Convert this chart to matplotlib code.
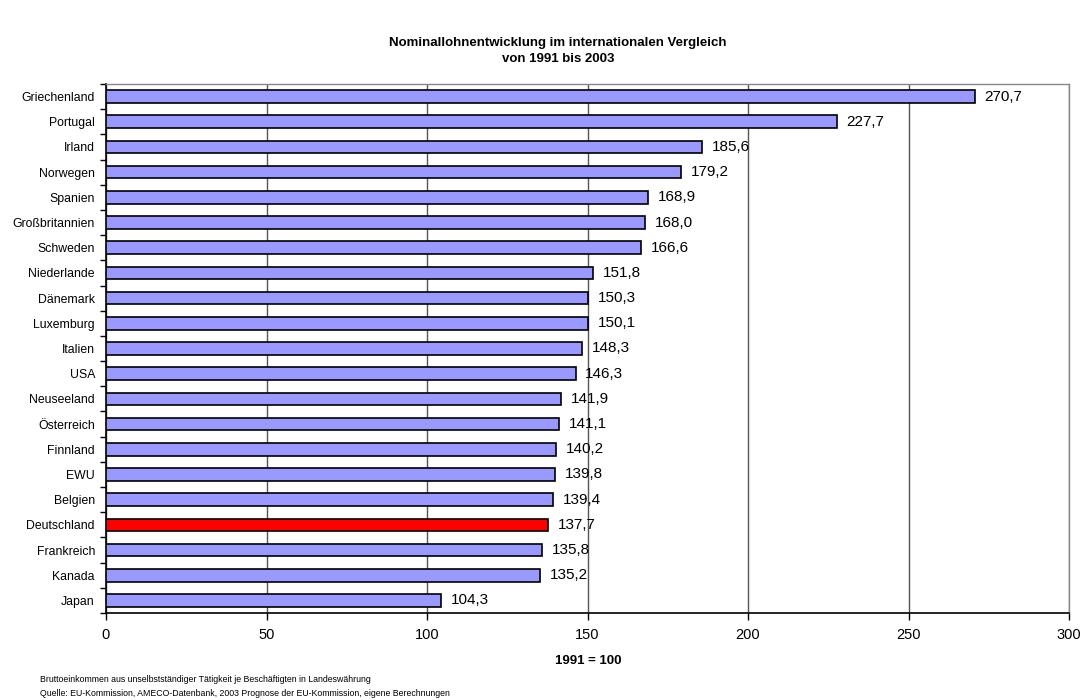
import matplotlib
matplotlib.use("Agg")
import matplotlib.pyplot as plt

countries = ["Griechenland", "Portugal", "Irland", "Norwegen", "Spanien", "Großbritannien",
             "Schweden", "Niederlande", "Dänemark", "Luxemburg", "Italien", "USA",
             "Neuseeland", "Österreich", "Finnland", "EWU", "Belgien", "Deutschland",
             "Frankreich", "Kanada", "Japan"]
values = [270.7, 227.7, 185.6, 179.2, 168.9, 168.0, 166.6, 151.8, 150.3, 150.1, 148.3,
          146.3, 141.9, 141.1, 140.2, 139.8, 139.4, 137.7, 135.8, 135.2, 104.3]
highlight = "Deutschland"
xticks = [0, 50, 100, 150, 200, 250, 300]

plt.rcParams['font.family'] = ['Liberation Sans', 'DejaVu Sans']

fig = plt.figure(figsize=(10.88, 7.0), dpi=100)
ax = fig.add_axes([106/1088, 1 - 613/700, (1069-106)/1088, (613-84)/700])

n = len(countries)
ypos = list(range(n))
colors = ["#FF0000" if c == highlight else "#9999FF" for c in countries]
ax.barh(ypos, values, height=0.5, color=colors, edgecolor="black", linewidth=1.2, zorder=3)
for y, v in zip(ypos, values):
    ax.text(v + 3, y, f"{v:.1f}".replace(".", ","), va="center", ha="left",
            fontsize=11, zorder=4)

ax.set_ylim(n - 0.5, -0.5)
ax.set_xlim(0, 300)
ax.set_xticks(xticks)
ax.set_xticklabels([str(t) for t in xticks], fontsize=10.5)
ax.set_yticks(ypos)
ax.set_yticklabels(countries, fontsize=8.8)
ax.tick_params(axis='y', length=0, pad=8)
ax.set_yticks([i - 0.5 for i in range(n + 1)], minor=True)
ax.tick_params(axis='y', which='minor', length=4, width=1, direction='out')
ax.tick_params(axis='x', length=5, width=1, direction='out', pad=6)
ax.grid(axis='x', color='#555555', linewidth=1, zorder=0)
ax.set_axisbelow(True)
for s in ['top', 'right']:
    ax.spines[s].set_color('#888888')
    ax.spines[s].set_linewidth(1)
for s in ['left', 'bottom']:
    ax.spines[s].set_color('black')
    ax.spines[s].set_linewidth(1.2)

fig.text(558/1088, 1 - 43/700, "Nominallohnentwicklung im internationalen Vergleich",
         ha="center", va="center", fontsize=9.5, fontweight="bold")
fig.text(558/1088, 1 - 59/700, "von 1991 bis 2003",
         ha="center", va="center", fontsize=9.5, fontweight="bold")
fig.text(588/1088, 1 - 661/700, "1991 = 100", ha="center", va="center",
         fontsize=9.5, fontweight="bold")
fig.text(40/1088, 1 - 679/700,
         "Bruttoeinkommen aus unselbstständiger Tätigkeit je Beschäftigten in Landeswährung",
         ha="left", va="center", fontsize=6.3)
fig.text(40/1088, 1 - 693/700,
         "Quelle: EU-Kommission, AMECO-Datenbank, 2003 Prognose der EU-Kommission, eigene Berechnungen",
         ha="left", va="center", fontsize=6.3)

fig.savefig("out.png", dpi=100)
